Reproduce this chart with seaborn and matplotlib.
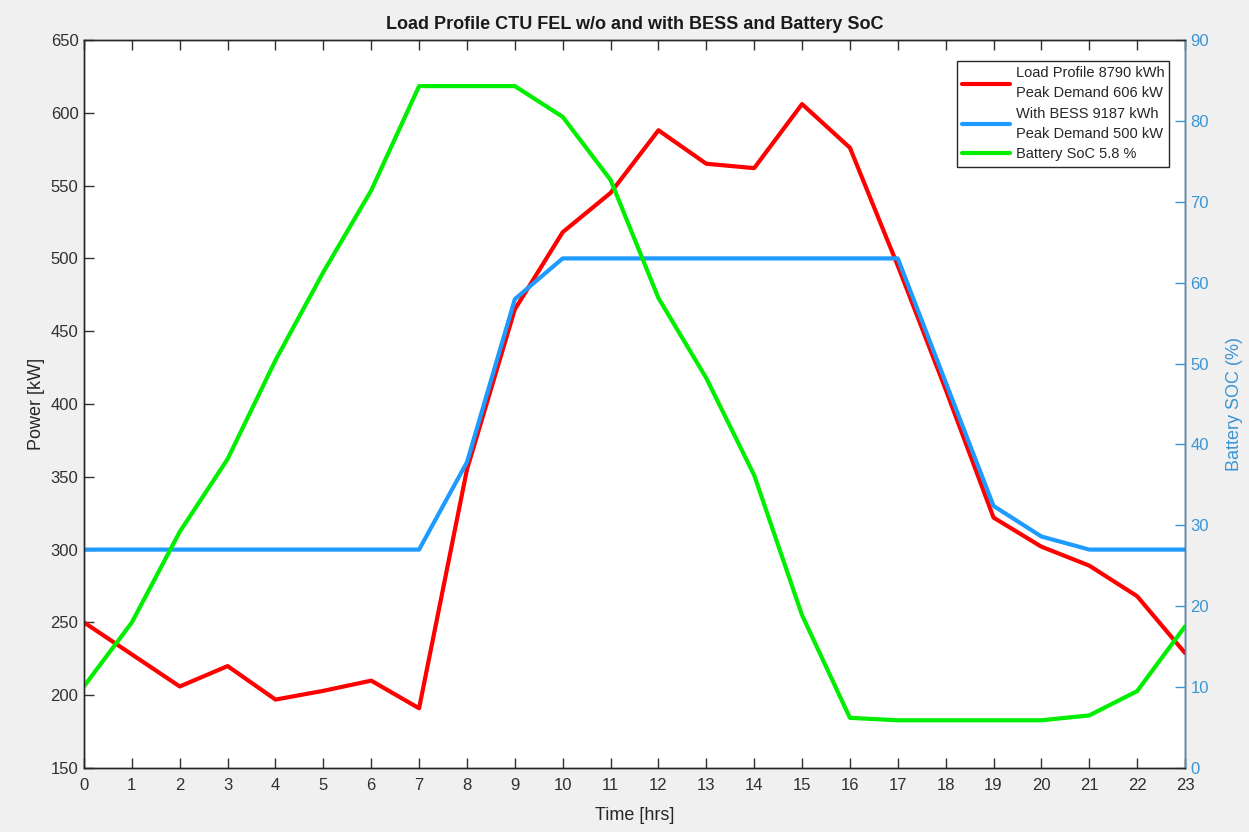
import matplotlib
matplotlib.use("Agg")
import matplotlib.pyplot as plt
import seaborn as sns
import numpy as np
import pandas as pd

hours = list(range(24))
load_profile = [250, 228, 206, 220, 197, 203, 210, 191, 355, 465, 518, 545, 588, 565, 562, 606,
                576, 495, 410, 322, 302, 289, 268, 229]
with_bess = [300, 300, 300, 300, 300, 300, 300, 300, 360, 472, 500, 500, 500, 500, 500, 500,
             500, 500, 415, 330, 309, 300, 300, 300]
battery_soc = [10.1, 18.0, 29.2, 38.2, 50.4, 61.3, 71.4, 84.3, 84.3, 84.3, 80.5, 72.7, 58.1, 48.2,
               36.2, 18.9, 6.2, 5.9, 5.9, 5.9, 5.9, 6.5, 9.5, 17.5]

labels = ["Load Profile 8790 kWh\nPeak Demand 606 kW",
          "With BESS 9187 kWh\nPeak Demand 500 kW",
          "Battery SoC 5.8 %"]
title = "Load Profile CTU FEL w/o and with BESS and Battery SoC"

sns.set_style("white")
plt.rcParams['font.family'] = ['Liberation Sans', 'DejaVu Sans']

df = pd.DataFrame({"hour": hours, "load": load_profile, "bess": with_bess, "soc": battery_soc})

fig = plt.figure(figsize=(12.49, 8.32), dpi=100, facecolor="#f0f0f0")
ax = fig.add_axes([84/1249, 1-768/832, (1185-84)/1249, (768-40)/832])
ax.set_facecolor("white")
ax2 = ax.twinx()

red = "#ff0000"
blue = "#1e9bff"
green = "#00ee00"
axblue = "#3a95d4"

sns.lineplot(data=df, x="hour", y="load", ax=ax, color=red, lw=3, label=labels[0], legend=False)
sns.lineplot(data=df, x="hour", y="bess", ax=ax, color=blue, lw=3, label=labels[1], legend=False)
sns.lineplot(data=df, x="hour", y="soc", ax=ax2, color=green, lw=3, label=labels[2], legend=False)

ax.set_xlim(0, 23)
ax.set_ylim(150, 650)
ax2.set_ylim(0, 90)
ax.set_xticks(range(24))
ax.set_yticks(range(150, 651, 50))
ax2.set_yticks(range(0, 91, 10))

ax.set_xlabel("Time [hrs]", fontsize=13, color="#262626", labelpad=10)
ax.set_ylabel("Power [kW]", fontsize=13, color="#262626", labelpad=4)
ax2.set_ylabel("Battery SOC (%)", fontsize=13, color=axblue, labelpad=12)
ax.set_title(title, fontsize=13, fontweight="bold", color="#1a1a1a", pad=8)

for a in (ax, ax2):
    for s in a.spines.values():
        s.set_visible(True)
        s.set_color("#262626")
        s.set_linewidth(1.0)
ax2.spines["right"].set_color(axblue)
ax.tick_params(axis="x", direction="in", length=7, width=1, labelsize=12, colors="#303030",
               top=True, bottom=True, pad=7)
ax.tick_params(axis="y", direction="in", length=7, width=1, labelsize=12, colors="#303030",
               left=True, right=False, pad=4)
ax2.tick_params(axis="y", direction="in", length=7, width=1, labelsize=12, colors=axblue, pad=4)

h1, l1 = ax.get_legend_handles_labels()
h2, l2 = ax2.get_legend_handles_labels()
leg = ax2.legend(h1 + h2, l1 + l2, loc="upper right", bbox_to_anchor=(0.9925, 0.981), fontsize=10.5,
                 frameon=True, fancybox=False, edgecolor="#262626", framealpha=1,
                 handlelength=3.3, labelspacing=0.45, borderpad=0.35, handletextpad=0.4)
for t in leg.get_texts():
    t.set_linespacing(1.55)
leg.get_frame().set_linewidth(1.0)

fig.savefig("out.png", dpi=100, facecolor=fig.get_facecolor())
